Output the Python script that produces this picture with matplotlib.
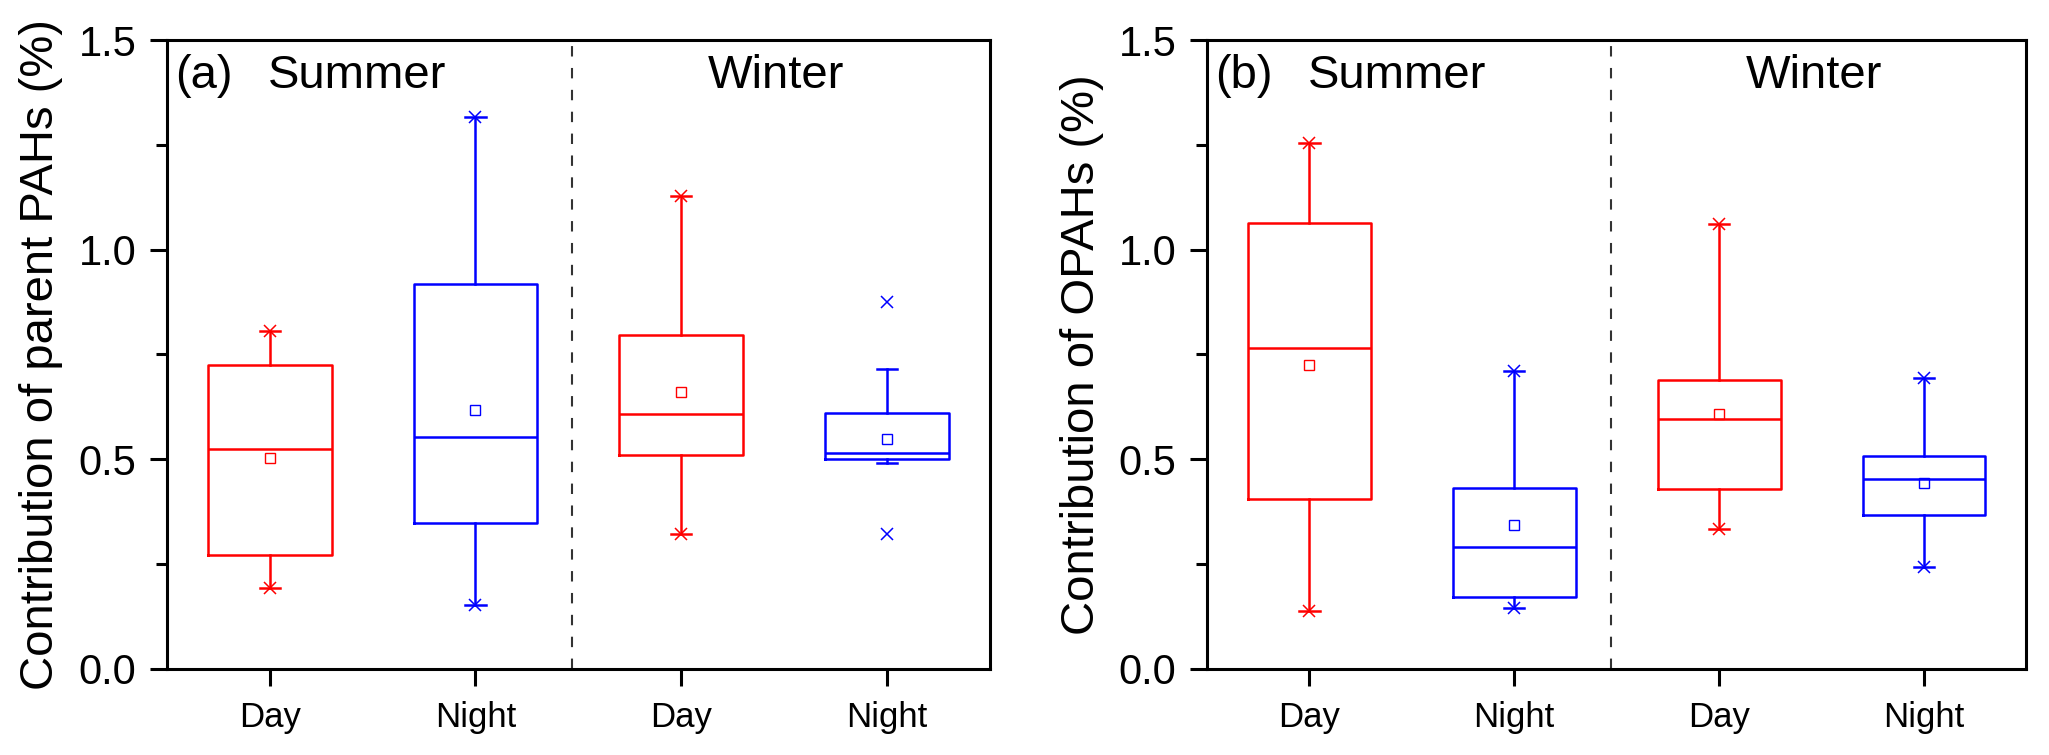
import matplotlib
matplotlib.use("Agg")
import matplotlib.pyplot as plt

plt.rcParams['font.family'] = ['Liberation Sans', 'DejaVu Sans']

# categories
labels = ['Day', 'Night', 'Day', 'Night']
box_colors = ['red', 'blue', 'red', 'blue']

# (a) parent PAHs
q1_a = [0.272, 0.349, 0.511, 0.501]
med_a = [0.525, 0.554, 0.608, 0.516]
q3_a = [0.725, 0.918, 0.796, 0.610]
mean_a = [0.502, 0.618, 0.660, 0.548]
whislo_a = [0.192, 0.152, 0.322, 0.492]
whishi_a = [0.806, 1.317, 1.127, 0.716]
min_a = [0.192, 0.152, 0.322, 0.322]
max_a = [0.806, 1.317, 1.127, 0.874]

# (b) OPAHs
q1_b = [0.405, 0.172, 0.430, 0.368]
med_b = [0.766, 0.292, 0.595, 0.454]
q3_b = [1.063, 0.432, 0.690, 0.509]
mean_b = [0.724, 0.343, 0.608, 0.444]
whislo_b = [0.139, 0.145, 0.333, 0.243]
whishi_b = [1.254, 0.711, 1.062, 0.695]
min_b = [0.139, 0.145, 0.333, 0.243]
max_b = [1.254, 0.711, 1.062, 0.695]

LW = 1.8


def draw_panel(ax, q1, med, q3, mean, wlo, whi, vmin, vmax, tag, ylabel):
    for i in range(len(labels)):
        c = box_colors[i]
        st = dict(q1=q1[i], med=med[i], q3=q3[i], mean=mean[i],
                  whislo=wlo[i], whishi=whi[i], fliers=[])
        ax.bxp([st], positions=[i + 1], widths=0.6, capwidths=0.1,
               showmeans=True, showfliers=False, manage_ticks=False,
               boxprops=dict(color=c, lw=LW),
               medianprops=dict(color=c, lw=LW),
               whiskerprops=dict(color=c, lw=LW),
               capprops=dict(color=c, lw=LW),
               meanprops=dict(marker='s', mfc='none', mec=c, ms=7.5, mew=1.0))
        # min / max markers
        ax.plot([i + 1, i + 1], [vmin[i], vmax[i]], ls='none', marker='x',
                color=c, ms=9, mew=1.1)

    ax.axvline(2.47, color='#333333', lw=1.5, ls=(0, (5, 5.5)))

    ax.set_xlim(0.5, 4.5)
    ax.set_ylim(0, 1.5)
    ax.set_xticks(range(1, 5))
    ax.set_xticklabels(labels)
    ax.set_yticks([0, 0.5, 1.0, 1.5])
    ax.set_yticks([0.25, 0.75, 1.25], minor=True)
    ax.set_yticklabels(['0.0', '0.5', '1.0', '1.5'])
    ax.tick_params(axis='y', which='major', direction='out', length=12,
                   width=2.2, labelsize=30, pad=10)
    ax.tick_params(axis='y', which='minor', direction='out', length=8, width=2.2)
    ax.tick_params(axis='x', direction='out', length=12, width=2.2,
                   labelsize=25, pad=11)
    for sp in ax.spines.values():
        sp.set_linewidth(2.2)

    ax.set_ylabel(ylabel, fontsize=34)
    ax.yaxis.set_label_coords(-0.126, 0.5)

    ax.text(0.01, 0.924, tag, transform=ax.transAxes, fontsize=34,
            va='baseline', ha='left')
    ax.text(0.123, 0.924, 'Summer', transform=ax.transAxes, fontsize=34,
            va='baseline', ha='left')
    ax.text(0.657, 0.924, 'Winter', transform=ax.transAxes, fontsize=34,
            va='baseline', ha='left')


fig = plt.figure(figsize=(20.49, 7.55), dpi=100)
ax1 = fig.add_axes([0.0815, 0.114, 0.4015, 0.833])
ax2 = fig.add_axes([0.589, 0.114, 0.400, 0.833])

draw_panel(ax1, q1_a, med_a, q3_a, mean_a, whislo_a, whishi_a, min_a, max_a,
           '(a)', 'Contribution of parent PAHs (%)')
draw_panel(ax2, q1_b, med_b, q3_b, mean_b, whislo_b, whishi_b, min_b, max_b,
           '(b)', 'Contribution of OPAHs (%)')

fig.savefig('out.png', dpi=100)
